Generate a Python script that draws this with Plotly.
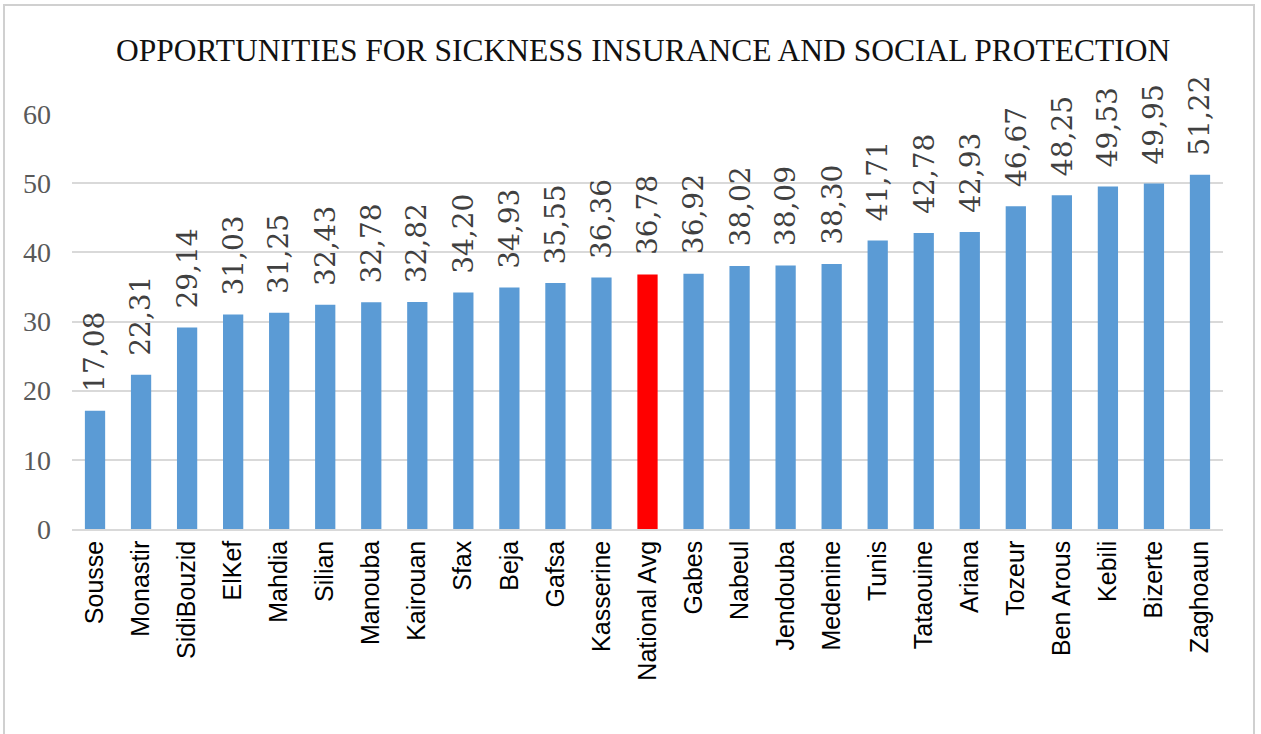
import plotly.graph_objects as go

regions = ["Sousse", "Monastir", "SidiBouzid", "ElKef", "Mahdia", "Silian", "Manouba",
           "Kairouan", "Sfax", "Beja", "Gafsa", "Kasserine", "National Avg", "Gabes",
           "Nabeul", "Jendouba", "Medenine", "Tunis", "Tataouine", "Ariana", "Tozeur",
           "Ben Arous", "Kebili", "Bizerte", "Zaghoaun"]
values = [17.08, 22.31, 29.14, 31.03, 31.25, 32.43, 32.78, 32.82, 34.20, 34.93, 35.55,
          36.36, 36.78, 36.92, 38.02, 38.09, 38.30, 41.71, 42.78, 42.93, 46.67, 48.25,
          49.53, 49.95, 51.22]
y_ticks = [0, 10, 20, 30, 40, 50, 60]

BLUE = "#5B9BD5"
RED = "#FF0000"
colors = [RED if r == "National Avg" else BLUE for r in regions]

W, H = 1261, 734
L, R, T, B = 72, 38, 114, 205
pw, ph = W - L - R, H - T - B

fig = go.Figure()
fig.add_trace(go.Bar(
    x=regions, y=values, marker=dict(color=colors, line=dict(width=0)),
    hoverinfo="x+y",
))

# value labels, rotated, comma decimal separator
for r, v in zip(regions, values):
    fig.add_annotation(
        x=r, y=v, text=f"{v:.2f}".replace(".", ","), textangle=-90,
        showarrow=False, yanchor="bottom", yshift=17,
        font=dict(family="DejaVu Serif", size=28, color="#404040"),
    )

# outer chart frame
fig.add_shape(
    type="rect", xref="paper", yref="paper",
    x0=(4 - L) / pw, x1=(1254 - L) / pw,
    y0=(T + ph - 745) / ph, y1=(T + ph - 5) / ph,
    line=dict(color="#D0D0D0", width=2), fillcolor="rgba(0,0,0,0)", layer="below",
)

fig.update_layout(
    width=W, height=H,
    margin=dict(l=L, r=R, t=T, b=B),
    paper_bgcolor="white", plot_bgcolor="white",
    bargap=0.56,
    showlegend=False,
    title=dict(
        text="OPPORTUNITIES FOR SICKNESS INSURANCE AND SOCIAL PROTECTION",
        x=0.51, xanchor="center", y=1 - 50 / H, yanchor="middle",
        font=dict(family="Liberation Serif", size=31.5, color="#111111"),
    ),
    xaxis=dict(
        type="category", tickangle=-90, showgrid=False, ticks="",
        showline=True, linecolor="#D9D9D9", linewidth=1.5,
        tickfont=dict(family="Liberation Sans", size=25, color="#000000"),
    ),
    yaxis=dict(
        range=[0, 60], tickvals=y_ticks, showgrid=True, gridcolor="#D9D9D9",
        gridwidth=1.5, zeroline=False, showline=False, ticks="",
        ticklabelstandoff=20,
        tickfont=dict(family="Liberation Serif", size=28, color="#595959"),
    ),
)

fig.write_html("out.html")
